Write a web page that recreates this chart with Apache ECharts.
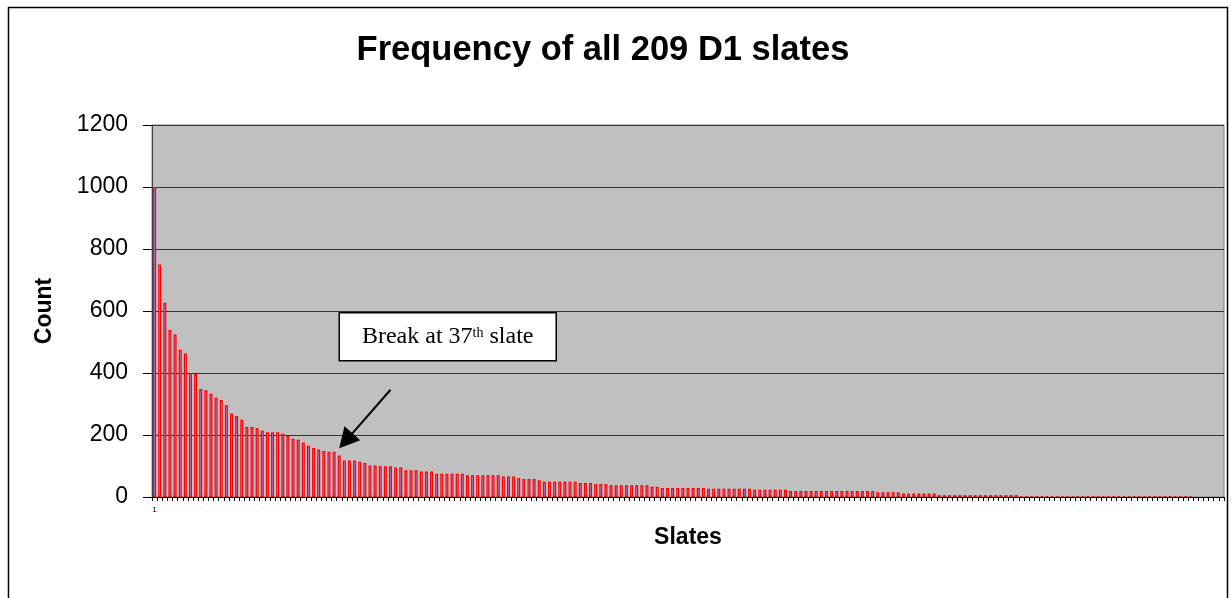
<!DOCTYPE html>
<html>
<head>
<meta charset="utf-8">
<script src="https://cdn.jsdelivr.net/npm/echarts@6/dist/echarts.min.js"></script>
<style>
html,body{margin:0;padding:0;background:#fff;}
#chart{width:1231px;height:598px;}
</style>
</head>
<body>
<div id="chart"></div>
<script>
// Slate rank labels (1..209)
const slates = Array.from({length: 209}, (_, i) => String(i + 1));

// Count per slate (sorted descending)
const counts = [
  1000,750,627,539,524,475,463,400,397,348,
  344,333,320,313,296,269,261,249,226,226,
  222,214,209,209,209,204,197,188,185,176,
  165,158,153,148,146,146,134,118,118,118,
  114,110,102,102,99,99,99,95,95,86,
  86,86,82,82,82,75,75,75,75,75,
  75,70,70,70,70,70,70,70,66,66,
  66,61,58,58,58,54,49,49,49,49,
  49,49,49,45,45,45,42,42,42,38,
  38,38,38,38,38,38,38,33,33,29,
  29,29,29,29,29,29,29,29,27,27,
  27,27,27,27,27,27,27,23,23,23,
  23,23,23,23,19,19,19,19,19,19,
  19,19,19,19,19,19,19,19,19,19,
  19,15,15,15,15,15,11,11,11,11,
  11,11,11,6,6,6,6,6,6,6,
  6,6,6,6,6,6,6,6,6,3,
  3,3,3,3,3,3,3,3,3,3,
  3,3,3,3,3,3,3,3,3,3,
  3,3,3,3,3,3,3,3,3,3,
  3,3,3,0,0,0,0,0,0
];

const yTicks = [0, 200, 400, 600, 800, 1000, 1200];

// Annotation anchors in data space: [slate index (0-based), count]
const arrowTail = [46, 346];
const arrowTip = [36, 157];
const boxAnchor = [36, 594];

// zero-count slates get no visible outline
const barData = counts.map(v => v === 0 ? { value: v, itemStyle: { borderWidth: 0 } } : v);

const chart = echarts.init(document.getElementById('chart'));

chart.setOption({
  animation: false,
  backgroundColor: '#ffffff',
  grid: {
    left: 152, top: 125, right: 7, bottom: 101,
    show: true, backgroundColor: '#c0c0c0', borderColor: '#808080', borderWidth: 1
  },
  xAxis: {
    type: 'category',
    data: slates,
    name: 'Slates',
    nameLocation: 'middle',
    nameGap: 29,
    nameTextStyle: { fontFamily: 'Liberation Sans, Arial, sans-serif', fontWeight: 'bold', fontSize: 23, color: '#000' },
    axisLine: { lineStyle: { color: '#000', width: 1.2 } },
    axisTick: { show: true, interval: 0, length: 4, lineStyle: { color: '#000' } },
    axisLabel: {
      interval: (i) => i === 0,
      fontSize: 8, color: '#000', margin: 9,
      fontFamily: 'Liberation Sans, Arial, sans-serif'
    },
    splitLine: { show: false }
  },
  yAxis: {
    type: 'value',
    min: yTicks[0], max: yTicks[yTicks.length - 1], interval: 200,
    name: 'Count',
    nameLocation: 'middle',
    nameGap: 96,
    nameTextStyle: { fontFamily: 'Liberation Sans, Arial, sans-serif', fontWeight: 'bold', fontSize: 23, color: '#000' },
    axisLine: { show: true, lineStyle: { color: '#404040', width: 1 } },
    axisTick: { show: true, length: 9, lineStyle: { color: '#000' } },
    axisLabel: {
      fontSize: 23, color: '#000', margin: 24,
      fontFamily: 'Liberation Sans, Arial, sans-serif',
      formatter: (v) => String(v)
    },
    splitLine: { show: true, lineStyle: { color: '#333333', width: 1 } }
  },
  series: [{
    type: 'bar',
    data: barData,
    barWidth: 3,
    itemStyle: { color: '#9999ff', borderColor: '#ff0000', borderWidth: 1.2 }
  }]
});

function drawAnnotations() {
  const tail = chart.convertToPixel({ seriesIndex: 0 }, arrowTail);
  const tip = chart.convertToPixel({ seriesIndex: 0 }, arrowTip);
  const box = chart.convertToPixel({ seriesIndex: 0 }, boxAnchor);
  const dx = tip[0] - tail[0], dy = tip[1] - tail[1];
  const len = Math.sqrt(dx * dx + dy * dy);
  const ux = dx / len, uy = dy / len;
  const headLen = 20, headHalf = 10.5;
  const bx = tip[0] - ux * headLen, by = tip[1] - uy * headLen;
  const p1 = [bx - uy * headHalf, by + ux * headHalf];
  const p2 = [bx + uy * headHalf, by - ux * headHalf];
  const bw = 217, bh = 48;
  chart.setOption({
    graphic: [
      {
        type: 'rect', silent: true, z: 0,
        shape: { x: 8.5, y: 7.5, width: 1219, height: 620 },
        style: { fill: null, stroke: '#000', lineWidth: 1.5 }
      },
      {
        type: 'text', silent: true, z: 10,
        style: {
          x: 603, y: 50, text: 'Frequency of all 209 D1 slates',
          fontFamily: 'Liberation Sans, Arial, sans-serif', fontWeight: 'bold', fontSize: 34.5,
          fill: '#000', align: 'center', verticalAlign: 'middle'
        }
      },
      {
        type: 'line', silent: true, z: 10,
        shape: { x1: tail[0], y1: tail[1], x2: bx + ux * 2, y2: by + uy * 2 },
        style: { stroke: '#000', lineWidth: 2 }
      },
      {
        type: 'polygon', silent: true, z: 10,
        shape: { points: [tip, p1, p2] },
        style: { fill: '#000' }
      },
      {
        type: 'rect', silent: true, z: 10,
        shape: { x: box[0], y: box[1], width: bw, height: bh },
        style: { fill: '#fff', stroke: '#000', lineWidth: 1.5 }
      },
      {
        type: 'text', silent: true, z: 11,
        style: {
          x: box[0] + bw / 2, y: box[1] + bh / 2,
          text: '{a|Break at 37}{b|th}{a| slate}',
          align: 'center', verticalAlign: 'middle',
          rich: {
            a: { fontFamily: 'Liberation Serif, Times New Roman, serif', fontSize: 24, lineHeight: 28, fill: '#000' },
            b: { fontFamily: 'Liberation Serif, Times New Roman, serif', fontSize: 14, lineHeight: 14, verticalAlign: 'top', padding: [3, 0, 0, 0], fill: '#000' }
          }
        }
      }
    ]
  });
}
drawAnnotations();
</script>
</body>
</html>
